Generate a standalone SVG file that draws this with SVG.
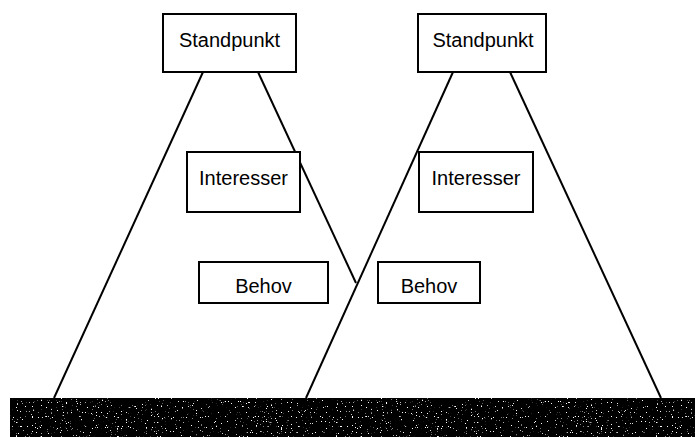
<svg xmlns="http://www.w3.org/2000/svg" width="695" height="437" viewBox="0 0 695 437">
<style>
.box{fill:#fff;stroke:#000;stroke-width:2}
.lbl{font-family:"Liberation Sans",Arial,sans-serif;font-size:20px;fill:#000;text-anchor:middle}
.ln{stroke:#000;stroke-width:2;fill:none}
</style>
<defs>
<filter id="speck" x="0" y="0" width="100%" height="100%">
<feTurbulence type="fractalNoise" baseFrequency="0.8" numOctaves="2" seed="3" result="n"/>
<feColorMatrix in="n" type="matrix" values="0 0 0 0 1  0 0 0 0 1  0 0 0 0 1  14 0 0 0 -9.6" result="s"/>
<feComposite in="s" in2="SourceGraphic" operator="in"/>
</filter>
</defs>
<rect width="695" height="437" fill="#fff"/>
<g id="ground">
<rect x="10" y="398" width="685" height="39" fill="#000"/>
<rect x="10" y="398" width="685" height="39" fill="#000" filter="url(#speck)"/>
</g>
<g id="connectors">
<line class="ln" x1="203" y1="72" x2="54" y2="398"/>
<line class="ln" x1="258" y1="72" x2="356" y2="283"/>
<line class="ln" x1="453" y1="72" x2="306" y2="398"/>
<line class="ln" x1="510" y1="72" x2="661" y2="398"/>
</g>
<g id="standpunkt1"><rect class="box" x="163" y="14" width="133" height="58"/><text class="lbl" x="229.5" y="47">Standpunkt</text></g>
<g id="standpunkt2"><rect class="box" x="418" y="14" width="128" height="58"/><text class="lbl" x="483" y="47">Standpunkt</text></g>
<g id="interesser1"><rect class="box" x="187" y="152" width="113" height="60"/><text class="lbl" x="243.5" y="185">Interesser</text></g>
<g id="interesser2"><rect class="box" x="419" y="152" width="114" height="60"/><text class="lbl" x="476" y="185">Interesser</text></g>
<g id="behov1"><rect class="box" x="199" y="262" width="129" height="41"/><text class="lbl" x="263.5" y="293">Behov</text></g>
<g id="behov2"><rect class="box" x="378" y="262" width="102" height="41"/><text class="lbl" x="429" y="293">Behov</text></g>
</svg>
